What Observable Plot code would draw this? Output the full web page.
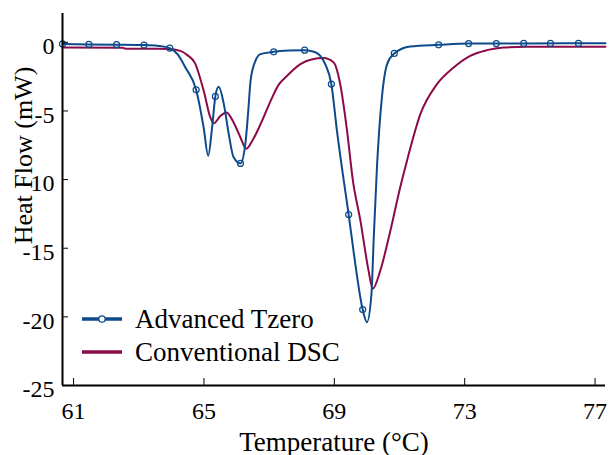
<!DOCTYPE html>
<html><head><meta charset="utf-8">
<script src="https://cdn.jsdelivr.net/npm/d3@7"></script>
<script src="https://cdn.jsdelivr.net/npm/@observablehq/plot@0.6"></script>
<style>html,body{margin:0;padding:0;background:#fff;overflow:hidden} svg{display:block}
svg text{font-family:'Liberation Serif','Times New Roman',Times,serif}</style>
</head><body><div id="chart"></div>
<script>
const seriesNames = ["Advanced Tzero", "Conventional DSC"];
const seriesColors = ["#0c4a8c", "#8b0b48"];

// Advanced Tzero curve (temperature °C, heat flow mW)
const tzeroT  = [60.66, 61.47, 62.32, 63.16, 63.6, 63.95, 64.2, 64.43, 64.76, 64.99, 65.13, 65.25, 65.35, 65.45, 65.61, 65.76, 65.91, 66.12, 66.27, 66.36, 66.43, 66.58, 66.73, 67.14, 67.6, 68.09, 68.4, 68.57, 68.72, 68.91, 69.08, 69.29, 69.44, 69.6, 69.87, 70.0, 70.14, 70.21, 70.31, 70.46, 70.62, 70.84, 71.33, 72.2, 73.12, 73.97, 74.81, 77.32];
const tzeroHF = [-0.12, -0.15, -0.17, -0.2, -0.26, -0.42, -0.9, -1.83, -3.46, -6.2, -8.26, -6.2, -3.94, -3.24, -4.5, -6.68, -8.38, -8.82, -7.4, -4.98, -2.8, -1.35, -0.86, -0.69, -0.6, -0.57, -0.7, -0.98, -1.59, -3.04, -6.44, -10.08, -12.55, -15.4, -19.47, -20.39, -18.3, -14.2, -9.0, -4.0, -1.59, -0.81, -0.3, -0.18, -0.09, -0.09, -0.08, -0.07];

// Advanced Tzero markers
const markT  = [60.66, 61.47, 62.32, 63.16, 63.95, 64.76, 65.35, 66.12, 67.14, 68.09, 68.91, 69.44, 69.87, 70.84, 72.2, 73.12, 73.97, 74.81, 75.63, 76.49];
const markHF = [-0.12, -0.15, -0.17, -0.2, -0.42, -3.46, -3.94, -8.82, -0.69, -0.57, -3.04, -12.55, -19.47, -0.81, -0.18, -0.09, -0.09, -0.08, -0.08, -0.08];

// Conventional DSC curve
const dscT  = [60.66, 62.5, 62.6, 63.9, 64.28, 64.5, 64.72, 65.0, 65.2, 65.3, 65.51, 65.69, 65.91, 66.12, 66.3, 66.5, 66.73, 67.04, 67.29, 67.55, 67.96, 68.3, 68.67, 68.98, 69.18, 69.39, 69.57, 69.8, 70.05, 70.18, 70.41, 70.72, 71.02, 71.23, 71.64, 72.15, 72.66, 73.17, 73.68, 74.19, 74.9, 77.32];
const dscHF = [-0.38, -0.4, -0.46, -0.48, -0.62, -0.95, -1.5, -3.6, -5.5, -5.9, -5.35, -5.11, -5.84, -6.93, -7.75, -7.1, -6.0, -4.3, -3.1, -2.44, -1.59, -1.25, -1.15, -1.47, -3.04, -6.44, -10.08, -12.99, -16.63, -17.96, -16.63, -13.72, -10.57, -8.62, -5.23, -3.04, -1.83, -0.98, -0.57, -0.38, -0.33, -0.33];

const xTicks = [61, 65, 69, 73, 77];
const xTickLabels = ["61", "65", "69", "73", "77"];
const yTicks = [0, -5, -10, -15, -20, -25];
const yTickLabels = ["0", "-5", "-10", "-15", "-20", "-25"];
const xDomain = [60.66, 77.32];
const yDomain = [-25, 2.1];
const xLabel = "Temperature (°C)";
const yLabel = "Heat Flow (mW)";

const tzero = tzeroT.map((t, i) => ({t, hf: tzeroHF[i]}));
const marks = markT.map((t, i) => ({t, hf: markHF[i]}));
const dsc = dscT.map((t, i) => ({t, hf: dscHF[i]}));

const font = "'Liberation Serif', 'Times New Roman', Times, serif";

const plot = Plot.plot({
  width: 610, height: 455,
  marginLeft: 62, marginRight: 5, marginTop: 13, marginBottom: 70,
  style: {fontFamily: font, background: "#fff", color: "#000", overflow: "visible"},
  x: {domain: xDomain, label: null},
  y: {domain: yDomain, label: null},
  marks: [
    Plot.line(dsc, {x: "t", y: "hf", stroke: seriesColors[1], strokeWidth: 2, curve: "monotone-x"}),
    Plot.line(tzero, {x: "t", y: "hf", stroke: seriesColors[0], strokeWidth: 2, curve: "monotone-x"}),
    Plot.dot(marks, {x: "t", y: "hf", r: 3, stroke: seriesColors[0], strokeWidth: 1.2, fill: "none"}),
    Plot.ruleX([xDomain[0]], {stroke: "#000", strokeWidth: 2}),
    Plot.ruleY([yDomain[0]], {stroke: "#000", strokeWidth: 2}),
    Plot.axisX({ticks: xTicks, tickSize: -7, tickFormat: () => "", label: null}),
    Plot.axisY({ticks: yTicks, tickSize: -6, tickFormat: () => "", label: null}),
    Plot.text(xTicks, {x: d => d, text: (d, i) => xTickLabels[i], frameAnchor: "bottom", dy: 16,
      lineAnchor: "top", textAnchor: "middle", fontSize: 24, fontFamily: font, fill: "#000"}),
    Plot.text(yTicks, {y: d => d, text: (d, i) => yTickLabels[i], frameAnchor: "left", dx: -8, dy: 4,
      lineAnchor: "middle", textAnchor: "end", fontSize: 24, fontFamily: font, fill: "#000"}),
    Plot.text([yLabel], {frameAnchor: "left", dx: -39, dy: -44, rotate: -90, fontSize: 26, fontFamily: font,
      textAnchor: "middle", lineAnchor: "middle", fill: "#000"}),
    Plot.text([xLabel], {frameAnchor: "bottom", dy: 57, fontSize: 27, fontFamily: font,
      textAnchor: "middle", lineAnchor: "middle", fill: "#000"})
  ]
});

document.getElementById("chart").appendChild(plot);

// Legend
const svg = d3.select(plot);
const legend = svg.append("g").attr("font-family", font).attr("font-size", 27).attr("text-anchor", "start");
const legendRows = [319, 352];
seriesNames.forEach((name, i) => {
  const g = legend.append("g").attr("transform", `translate(82,${legendRows[i]})`);
  g.append("line").attr("x1", 0).attr("x2", 40).attr("y1", 0).attr("y2", 0)
    .attr("stroke", seriesColors[i]).attr("stroke-width", 3.5);
  if (i === 0) {
    g.append("circle").attr("cx", 20).attr("cy", 0).attr("r", 3.2)
      .attr("fill", "#fff").attr("stroke", seriesColors[i]).attr("stroke-width", 1.3);
  }
  g.append("text").attr("x", 53).attr("y", 8.5).attr("fill", "#000").attr("text-anchor", "start").text(name);
});
</script>
</body></html>
